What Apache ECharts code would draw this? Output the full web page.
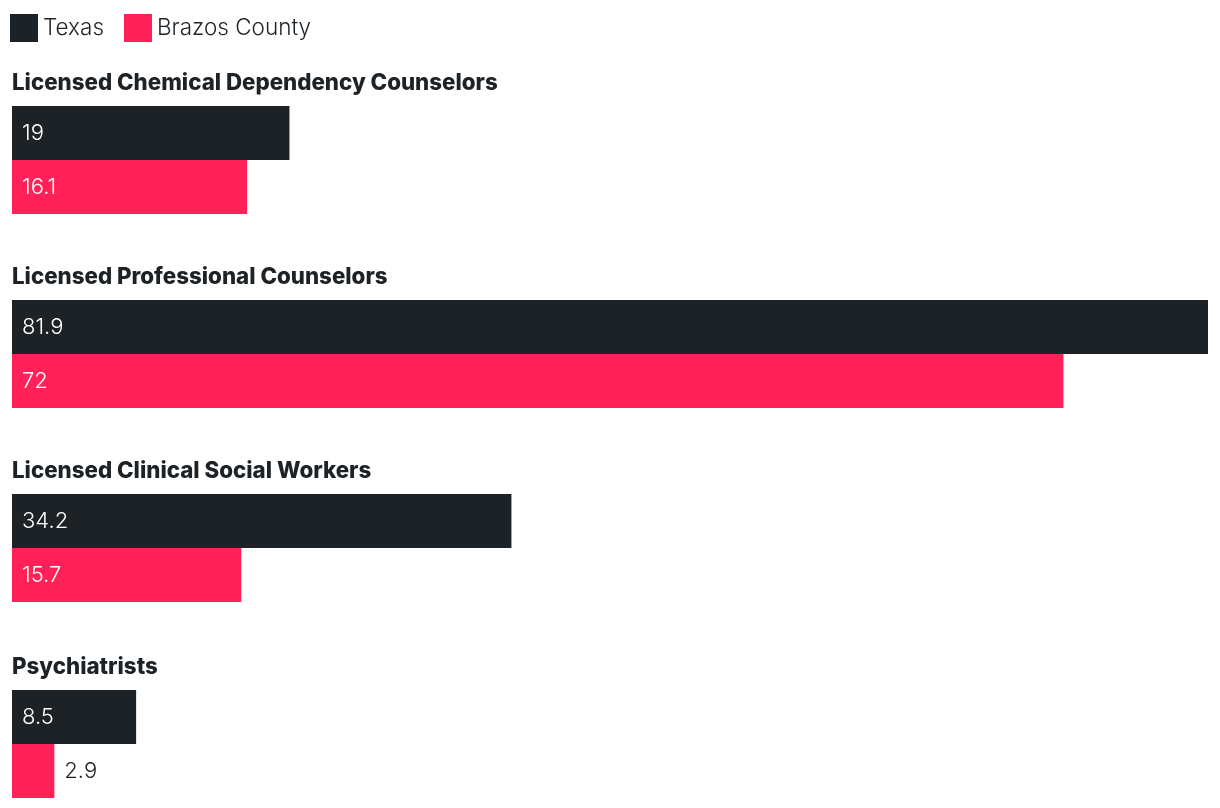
<!DOCTYPE html>
<html>
<head>
<meta charset="utf-8">
<script src="https://cdn.jsdelivr.net/npm/echarts@6/dist/echarts.min.js"></script>
<style>
  html, body { margin: 0; padding: 0; background: #fff; }
  #main { width: 1220px; height: 808px; }
</style>
</head>
<body>
<div id="main"></div>
<script>
// 数据
var categories = ['Licensed Chemical Dependency Counselors', 'Licensed Professional Counselors', 'Licensed Clinical Social Workers', 'Psychiatrists'];
var seriesNames = ['Texas', 'Brazos County'];
var texasValues = [19, 81.9, 34.2, 8.5];
var brazosValues = [16.1, 72, 15.7, 2.9];

var colors = ['#1c2226', '#ff2158'];
var font = 'Inter, "Noto Sans", sans-serif';
var groupTops = [106, 300, 494, 690];
var xMax = 81.9;

var grids = [], xAxes = [], yAxes = [], titles = [], series = [];

function barLabel(v) {
    // 太短的条形把数字放在外面
    if (v < 5) {
        return { show: true, position: 'right', distance: 10, color: '#1c2226', fontSize: 22, fontFamily: font, fontWeight: 300 };
    }
    return { show: true, position: 'insideLeft', distance: 10, color: '#fff', fontSize: 22, fontFamily: font, fontWeight: 300 };
}

for (var i = 0; i < categories.length; i++) {
    grids.push({ left: 12, right: 12, top: groupTops[i], height: 108, containLabel: false });
    xAxes.push({ type: 'value', gridIndex: i, min: 0, max: xMax, show: false });
    yAxes.push({ type: 'category', gridIndex: i, data: [categories[i]], inverse: true, show: false });
    titles.push({
        text: categories[i], left: 7, top: groupTops[i] - 39,
        textStyle: { fontFamily: font, fontSize: 22.3, fontWeight: 800, color: '#1c2226' }
    });
    series.push({
        name: seriesNames[0], type: 'bar', xAxisIndex: i, yAxisIndex: i,
        barWidth: 54, barGap: '0%', itemStyle: { color: colors[0] },
        data: [{ value: texasValues[i], label: barLabel(texasValues[i]) }],
        silent: true, animation: false
    });
    series.push({
        name: seriesNames[1], type: 'bar', xAxisIndex: i, yAxisIndex: i,
        barWidth: 54, barGap: '0%', itemStyle: { color: colors[1] },
        data: [{ value: brazosValues[i], label: barLabel(brazosValues[i]) }],
        silent: true, animation: false
    });
}

var chart = echarts.init(document.getElementById('main'));
chart.setOption({
    animation: false,
    color: colors,
    title: titles,
    legend: {
        data: seriesNames, left: 5, top: 9,
        itemWidth: 28, itemHeight: 28, itemGap: 20,
        icon: 'rect',
        textStyle: { fontFamily: font, fontSize: 22.5, fontWeight: 300, color: '#1c2226' }
    },
    grid: grids,
    xAxis: xAxes,
    yAxis: yAxes,
    series: series
});
</script>
</body>
</html>
